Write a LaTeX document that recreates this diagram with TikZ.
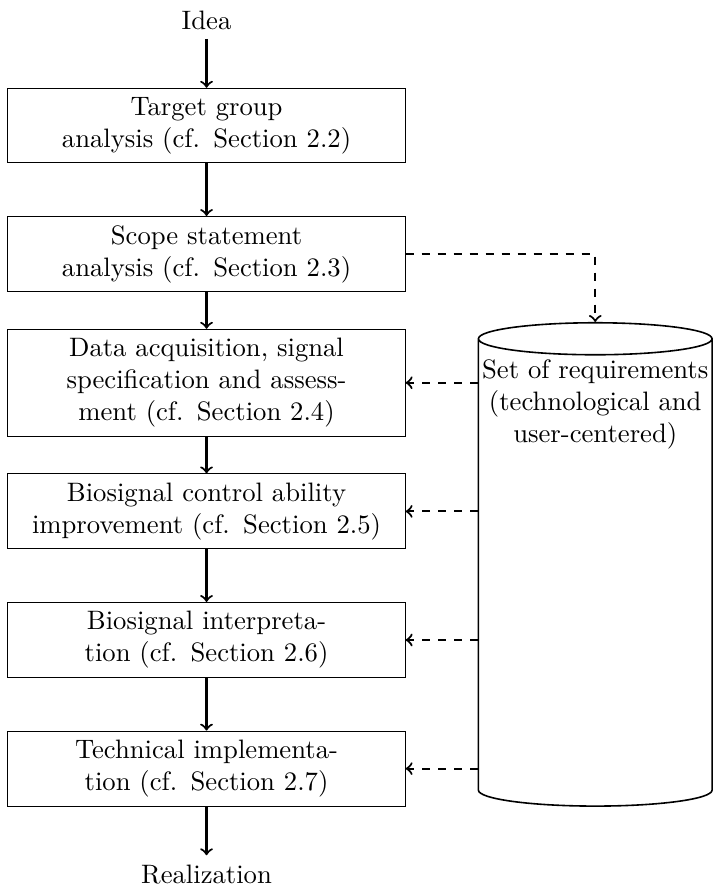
\documentclass[tikz,border=0pt]{standalone}
\usetikzlibrary{positioning,shapes.geometric}

\begin{document}
\begin{tikzpicture}[
    box/.style={draw, thin, text width=5cm, align=center},
    flow/.style={->, thick},
    feed/.style={->, thick, dashed}
  ]
    \useasboundingbox (0,0) rectangle (9.40,-11.664);
    % process steps
    \node[anchor=base] (idea) at (2.722,-0.385) {Idea};
    \node[box] (tga) at (2.722,-1.655) {Target group\\ analysis (cf. Section 2.2)};
    \node[box] (ssa) at (2.722,-3.350) {Scope statement\\ analysis (cf. Section 2.3)};
    \node[box] (daq) at (2.722,-5.045) {Data acquisition, signal specification and assessment (cf. Section 2.4)};
    \node[box] (bci) at (2.722,-6.740) {Biosignal control ability improvement (cf. Section 2.5)};
    \node[box] (bsi) at (2.722,-8.435) {Biosignal interpretation (cf. Section 2.6)};
    \node[box] (tim) at (2.722,-10.130) {Technical implementation (cf. Section 2.7)};
    \node[anchor=base] (real) at (2.722,-11.64) {Realization};
    % requirements
    \node[draw, semithick, cylinder, shape border rotate=90, aspect=1.8,
          minimum width=3.08cm, minimum height=6.37cm] (req) at (7.845,-7.59) {};
    \node[text width=3.05cm, align=center, below=0.37cm of req.north] (reqlbl)
          {Set of requirements (technological and user-centered)};
    % connections
    \draw[flow] (idea) -- (tga);
    \draw[flow] (tga) -- (ssa);
    \draw[flow] (ssa) -- (daq);
    \draw[flow] (daq) -- (bci);
    \draw[flow] (bci) -- (bsi);
    \draw[flow] (bsi) -- (tim);
    \draw[flow] (tim) -- (real);
    \draw[feed] (ssa.east) -| (req.north);
    \foreach \s in {daq, bci, bsi, tim}
        \draw[feed] (req.west |- \s) -- (\s.east);
\end{tikzpicture}
\end{document}
